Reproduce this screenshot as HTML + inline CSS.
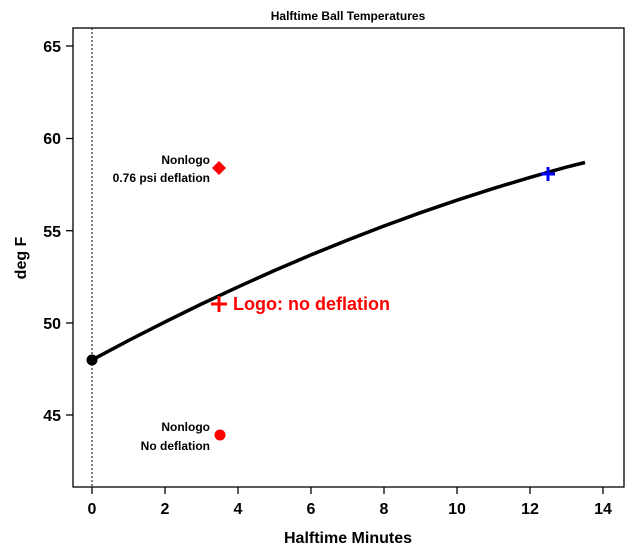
<!DOCTYPE html>
<html><head><meta charset="utf-8"><style>body{margin:0;background:#fff}svg{display:block;font-family:"Liberation Sans",Arial,sans-serif;font-weight:bold}</style></head><body>
<svg width="640" height="560" viewBox="0 0 640 560">
<rect x="73" y="28" width="551" height="459" fill="none" stroke="#000" stroke-width="1.3"/>
<text x="348" y="20" font-size="12" text-anchor="middle">Halftime Ball Temperatures</text>
<g stroke="#000" stroke-width="1.3">
<line x1="92" y1="487" x2="92" y2="494"/><line x1="165" y1="487" x2="165" y2="494"/><line x1="238" y1="487" x2="238" y2="494"/><line x1="311" y1="487" x2="311" y2="494"/><line x1="384" y1="487" x2="384" y2="494"/><line x1="457" y1="487" x2="457" y2="494"/><line x1="530" y1="487" x2="530" y2="494"/><line x1="603" y1="487" x2="603" y2="494"/>
<line x1="66" y1="415" x2="73" y2="415"/><line x1="66" y1="323" x2="73" y2="323"/><line x1="66" y1="230.7" x2="73" y2="230.7"/><line x1="66" y1="138.5" x2="73" y2="138.5"/><line x1="66" y1="46" x2="73" y2="46"/>
</g>
<g font-size="16" text-anchor="middle">
<text x="92" y="514">0</text><text x="165" y="514">2</text><text x="238" y="514">4</text><text x="311" y="514">6</text><text x="384" y="514">8</text><text x="457" y="514">10</text><text x="530" y="514">12</text><text x="603" y="514">14</text>
</g>
<g font-size="16" text-anchor="end">
<text x="61" y="421">45</text><text x="61" y="329">50</text><text x="61" y="237">55</text><text x="61" y="144">60</text><text x="61" y="52">65</text>
</g>
<text x="348" y="543" font-size="16" text-anchor="middle">Halftime Minutes</text>
<text transform="translate(26,258) rotate(-90)" font-size="16" text-anchor="middle">deg F</text>
<line x1="92" y1="28" x2="92" y2="487" stroke="#000" stroke-width="1" stroke-dasharray="2,2"/>
<polyline fill="none" stroke="#000" stroke-width="3.5" stroke-linejoin="round" points="92,359.9 128.5,340.5 165,321.9 201.5,304 238,286.9 274.5,270.5 311,254.9 347.5,240.1 384,226 420.5,212.7 457,200.2 493.5,188.4 530,177.4 566.5,167.1 585,162.5"/>
<circle cx="92" cy="360" r="5.5" fill="#000"/>
<path d="M541 174h14M548 167v14" stroke="#0000ff" stroke-width="3"/>
<path d="M219 161l7 7-7 7-7-7z" fill="#ff0000"/>
<path d="M211 304h16M219 296v16" stroke="#ff0000" stroke-width="3"/>
<circle cx="220" cy="435" r="5.5" fill="#ff0000"/>
<text x="233" y="310" font-size="18" fill="#ff0000">Logo: no deflation</text>
<g font-size="12" text-anchor="end">
<text x="210" y="164">Nonlogo</text><text x="210" y="182">0.76 psi deflation</text>
<text x="210" y="431">Nonlogo</text><text x="210" y="450">No deflation</text>
</g>
</svg>
</body></html>
